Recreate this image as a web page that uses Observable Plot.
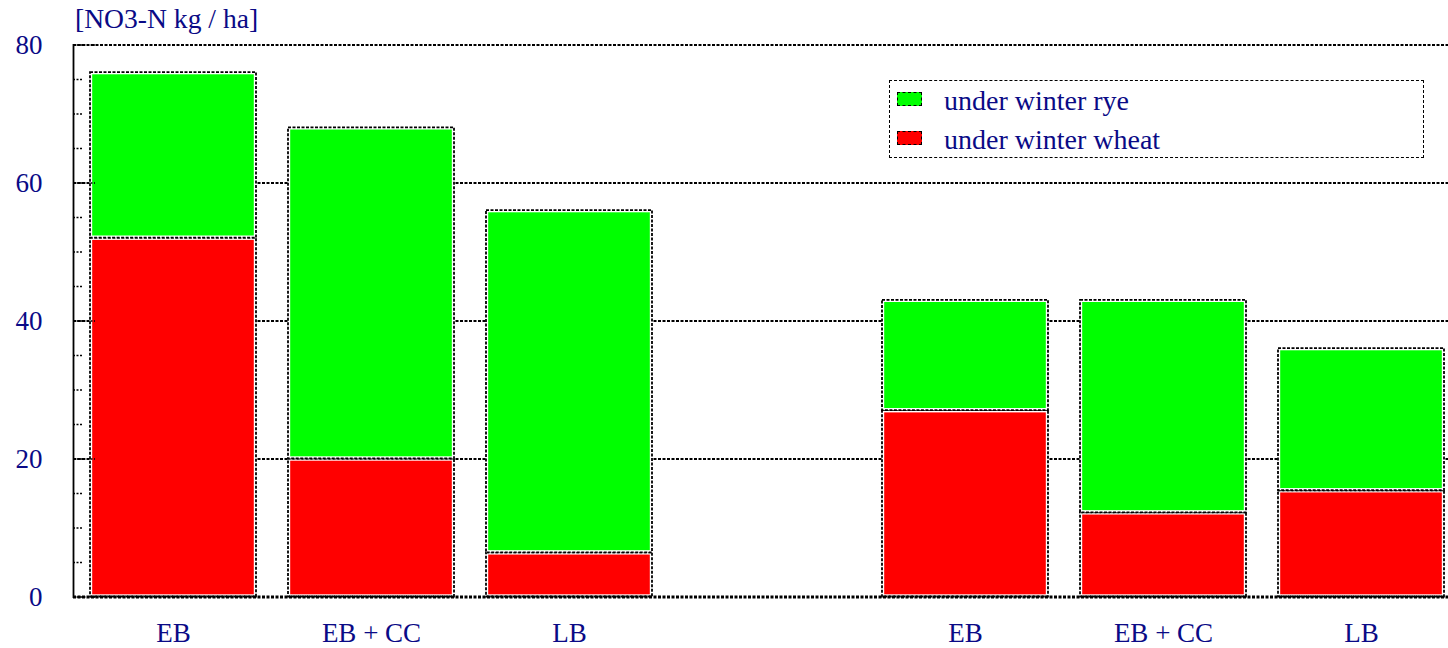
<!DOCTYPE html>
<html>
<head>
<meta charset="utf-8">
<script src="https://cdn.jsdelivr.net/npm/d3@7"></script>
<script src="https://cdn.jsdelivr.net/npm/@observablehq/plot@0.6"></script>
<style>
  body { margin: 0; background: #fff; }
  #chart { position: relative; width: 1448px; height: 648px; font-family: "Liberation Serif", "Times New Roman", serif; color: #0a0a86; }
  #chart svg { position: absolute; left: 0; top: 0; }
  #title { position: absolute; left: 75px; top: 5px; font-size: 27.6px; line-height: 1; white-space: nowrap; }
  #legend { position: absolute; left: 889px; top: 80px; width: 533px; height: 76px; border: 1.5px dashed #000; background: #fff; }
  .item { position: absolute; left: 0; font-size: 28px; line-height: 1; white-space: nowrap; }
  .swatch { position: absolute; width: 23px; height: 12px; border: 1.5px dashed #000; }
  .label { position: absolute; left: 54px; }
</style>
</head>
<body>
<div id="chart">
  <div id="title">[NO3-N kg / ha]</div>
  <div id="legend"></div>
</div>
<script>
// Category slots along x; slot 3 is an empty spacer between the two groups
const tickLabels = ["EB", "EB + CC", "LB", "", "EB", "EB + CC", "LB"];
const barSlots = [0, 1, 2, 4, 5, 6];

// NO3-N (kg/ha) per treatment, stacked: wheat at the bottom, rye on top
const wheat = [52, 20, 6.4, 27, 12.2, 15.4];
const rye = [24, 48, 49.6, 16, 30.8, 20.6];

const seriesNames = ["under winter wheat", "under winter rye"];
const seriesColors = ["#ff0000", "#00ff00"];
const legendOrder = ["under winter rye", "under winter wheat"];

const yMajor = [0, 20, 40, 60, 80];
const yMinor = [5, 10, 15, 25, 30, 35, 45, 50, 55, 65, 70, 75];

const ink = "#0a0a86";
const line = "#000";
const dash = "3,1.5";

const rows = barSlots.flatMap((slot, i) => [
  {slot, series: seriesNames[0], value: wheat[i]},
  {slot, series: seriesNames[1], value: rye[i]}
]);

const W = 1448, H = 648, mL = 73, mR = 0;
const frameW = W - mL - mR;

const chart = Plot.plot({
  width: W,
  height: H,
  marginLeft: mL,
  marginRight: mR,
  marginTop: 44.5,
  marginBottom: 51.5,
  style: {fontFamily: "'Liberation Serif', 'Times New Roman', serif", fontSize: "27px", color: ink, background: "transparent"},
  x: {type: "band", domain: d3.range(tickLabels.length), range: [mL, 1461], paddingInner: 0.16, paddingOuter: 0.08, align: 0.5},
  y: {domain: [0, 80]},
  color: {domain: seriesNames, range: seriesColors},
  marks: [
    Plot.ruleY([20, 40, 60, 80], {stroke: line, strokeWidth: 1.8, strokeDasharray: dash}),
    Plot.barY(rows, {x: "slot", y: "value", fill: "white", stroke: line, strokeWidth: 1.8, strokeDasharray: dash}),
    Plot.barY(rows, {x: "slot", y: "value", fill: "series", inset: 2.2}),
    Plot.tickY(yMinor, {y: d => d, insetRight: frameW - 10, stroke: line, strokeWidth: 1.6, strokeDasharray: "2,1.5"}),
    Plot.tickY(yMajor, {y: d => d, insetRight: frameW - 22, stroke: line, strokeWidth: 1.6, strokeDasharray: "2,1.5"}),
    Plot.frame({anchor: "left", stroke: line, strokeWidth: 1.8, strokeDasharray: dash}),
    Plot.ruleY([0], {stroke: line, strokeWidth: 3, strokeDasharray: dash}),
    Plot.axisY(yMajor, {tickSize: 0, tickPadding: 31, fontSize: 27, fill: ink, label: null}),
    Plot.axisX({tickSize: 0, tickPadding: 26, fontSize: 27, fill: ink, label: null, tickFormat: i => tickLabels[i]})
  ]
});
const host = document.getElementById("chart");
host.insertBefore(chart, host.firstChild);

// Legend box in the upper right of the plot area
const legend = document.getElementById("legend");
legendOrder.forEach((name, i) => {
  const item = document.createElement("div");
  item.className = "item";
  item.style.top = (6 + i * 39) + "px";
  const sw = document.createElement("div");
  sw.className = "swatch";
  sw.style.left = "7px";
  sw.style.top = "5px";
  sw.style.background = seriesColors[seriesNames.indexOf(name)];
  const lab = document.createElement("div");
  lab.className = "label";
  lab.style.top = "0px";
  lab.textContent = name;
  item.appendChild(sw);
  item.appendChild(lab);
  legend.appendChild(item);
});
</script>
</body>
</html>
